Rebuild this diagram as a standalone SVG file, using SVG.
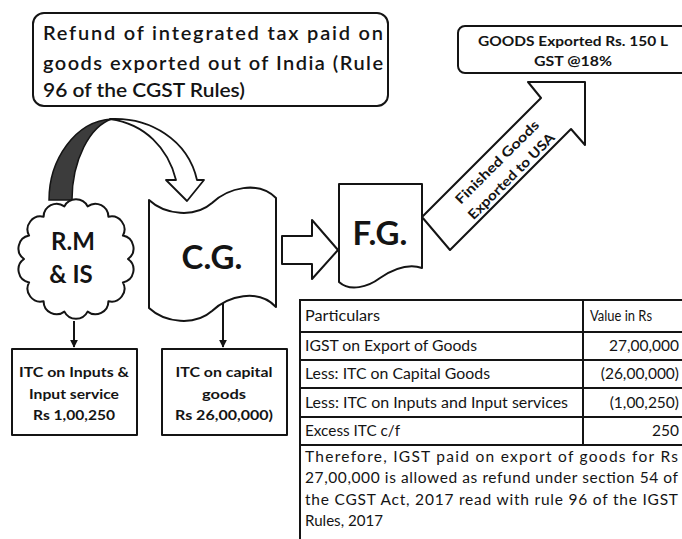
<svg xmlns="http://www.w3.org/2000/svg" width="682" height="539" viewBox="0 0 682 539">
<defs>
<style>
text{font-family:Lato,"Open Sans","Liberation Sans",sans-serif;fill:#141414}
.shape{fill:#fff;stroke:#141414;stroke-width:2;stroke-linejoin:round}
.ln{fill:none;stroke:#141414;stroke-width:2}
.b{font-weight:bold}
.t{font-size:15.5px}
.v{font-size:15.5px;text-anchor:end}
.box{font-size:14px;font-weight:bold}
</style>
<marker id="ah" viewBox="0 0 10 10" refX="9" refY="5" markerWidth="4" markerHeight="4" orient="auto" markerUnits="strokeWidth">
<path d="M0,0 L10,5 L0,10 Z" fill="#141414"/>
</marker>
</defs>
<rect width="682" height="539" fill="#fff"/>

<g id="title">
<rect class="shape" x="33" y="13" width="355" height="93" rx="11" stroke-width="2.5"/>
<text x="43" y="40" font-size="20" font-weight="600" textLength="340" lengthAdjust="spacing">Refund of integrated tax paid on</text>
<text x="43" y="70" font-size="20" font-weight="600" textLength="340" lengthAdjust="spacing">goods exported out of India (Rule</text>
<text x="43" y="97" font-size="20" font-weight="600" textLength="202" lengthAdjust="spacingAndGlyphs">96 of the CGST Rules)</text>
</g>

<g id="goods">
<rect class="shape" x="458" y="26" width="245" height="47" rx="7"/>
<text class="b" x="573" y="46" font-size="13" text-anchor="middle" textLength="190" lengthAdjust="spacingAndGlyphs">GOODS Exported Rs. 150 L</text>
<text class="b" x="573" y="66" font-size="13" text-anchor="middle" textLength="78" lengthAdjust="spacingAndGlyphs">GST @18%</text>
</g>

<g id="connectors">
<path d="M49,200 C49,160 75,121 112,119 C90,126 72,160 72,200 Z" fill="#3c3c3c" stroke="#141414" stroke-width="1.5"/>
<path d="M110,119 C150,117 188,140 197,180 L204,180 L187,201 L166,180 L176,180 C168,148 145,124 110,119 Z" fill="#fff" stroke="#141414" stroke-width="1.8" stroke-linejoin="round"/>
<polygon class="shape" points="282,236 312,236 312,220 338,250 312,279 312,264 282,264"/>
<polygon class="shape" points="422,217 541,98 528,82 585,82 585,145 571,129 450,250"/>
<line class="ln" x1="74" y1="321" x2="74" y2="347" marker-end="url(#ah)"/>
<line class="ln" x1="223" y1="300" x2="223" y2="347" marker-end="url(#ah)"/>
<g transform="translate(504,169) rotate(-45)">
<text class="b" x="0" y="-5" font-size="13.5" text-anchor="middle" textLength="112" lengthAdjust="spacingAndGlyphs">Finished Goods</text>
<text class="b" x="0" y="15" font-size="13.5" text-anchor="middle" textLength="116" lengthAdjust="spacingAndGlyphs">Exported to USA</text>
</g>
</g>

<g id="rmis">
<path class="shape" d="M128,259 A13,13 0 0 1 122.9,282.4 A13,13 0 0 1 108.4,301.2 A13,13 0 0 1 87.6,311.6 A13,13 0 0 1 64.4,311.6 A13,13 0 0 1 43.6,301.2 A13,13 0 0 1 29.1,282.4 A13,13 0 0 1 24,259 A13,13 0 0 1 29.1,235.6 A13,13 0 0 1 43.6,216.8 A13,13 0 0 1 64.4,206.4 A13,13 0 0 1 87.6,206.4 A13,13 0 0 1 108.4,216.8 A13,13 0 0 1 122.9,235.6 A13,13 0 0 1 128,259 Z"/>
<text class="b" x="73" y="250" font-size="24" text-anchor="middle">R.M</text>
<text class="b" x="71" y="283" font-size="24" text-anchor="middle">&amp; IS</text>
</g>

<g id="cg">
<path class="shape" d="M149,200 C165,215 195,218 212,203 C228,188 258,180 276,198 L276,307 C258,288 228,296 212,311 C195,326 165,323 149,308 Z"/>
<text class="b" x="212" y="269" font-size="33" text-anchor="middle">C.G.</text>
</g>

<g id="fg">
<path class="shape" d="M339,184 H422 V268 C410,264 395,268 380,278 C368,287 350,292 339,282 Z"/>
<text class="b" x="380" y="245" font-size="33" text-anchor="middle">F.G.</text>
</g>

<g id="itc-inputs">
<rect class="shape" x="12" y="349" width="125" height="86"/>
<text class="box" x="74" y="377" text-anchor="middle" textLength="110" lengthAdjust="spacingAndGlyphs">ITC on Inputs &amp;</text>
<text class="box" x="74" y="399" text-anchor="middle" textLength="90" lengthAdjust="spacingAndGlyphs">Input service</text>
<text class="box" x="74" y="420" text-anchor="middle" textLength="82" lengthAdjust="spacingAndGlyphs">Rs 1,00,250</text>
</g>

<g id="itc-capital">
<rect class="shape" x="162" y="349" width="125" height="86"/>
<text class="box" x="224" y="377" text-anchor="middle" textLength="97" lengthAdjust="spacingAndGlyphs">ITC on capital</text>
<text class="box" x="224" y="399" text-anchor="middle" textLength="44" lengthAdjust="spacingAndGlyphs">goods</text>
<text class="box" x="224" y="420" text-anchor="middle" textLength="98" lengthAdjust="spacingAndGlyphs">Rs 26,00,000)</text>
</g>

<g id="table">
<rect x="300" y="300" width="420" height="260" fill="#fff" stroke="#141414" stroke-width="2"/>
<path class="ln" d="M300,332 H720 M300,360 H720 M300,388 H720 M300,417 H720 M300,445 H720 M583,300 V445" stroke-width="1.8"/>
<text class="t" x="305" y="321" textLength="75" lengthAdjust="spacingAndGlyphs">Particulars</text>
<text class="t" x="590" y="321" textLength="62" lengthAdjust="spacingAndGlyphs">Value in Rs</text>
<text class="t" x="305" y="351" textLength="172" lengthAdjust="spacingAndGlyphs">IGST on Export of Goods</text>
<text class="v" x="679" y="351">27,00,000</text>
<text class="t" x="305" y="379" textLength="185" lengthAdjust="spacingAndGlyphs">Less: ITC on Capital Goods</text>
<text class="v" x="679" y="379">(26,00,000)</text>
<text class="t" x="305" y="408" textLength="263" lengthAdjust="spacingAndGlyphs">Less: ITC on Inputs and Input services</text>
<text class="v" x="679" y="408">(1,00,250)</text>
<text class="t" x="305" y="436" textLength="95" lengthAdjust="spacingAndGlyphs">Excess ITC c/f</text>
<text class="v" x="679" y="436">250</text>
<text class="t" x="305" y="462" textLength="373" lengthAdjust="spacing">Therefore, IGST paid on export of goods for Rs</text>
<text class="t" x="305" y="483" textLength="373" lengthAdjust="spacing">27,00,000 is allowed as refund under section 54 of</text>
<text class="t" x="305" y="505" textLength="373" lengthAdjust="spacing">the CGST Act, 2017 read with rule 96 of the IGST</text>
<text class="t" x="305" y="526" textLength="78" lengthAdjust="spacingAndGlyphs">Rules, 2017</text>
</g>
</svg>
